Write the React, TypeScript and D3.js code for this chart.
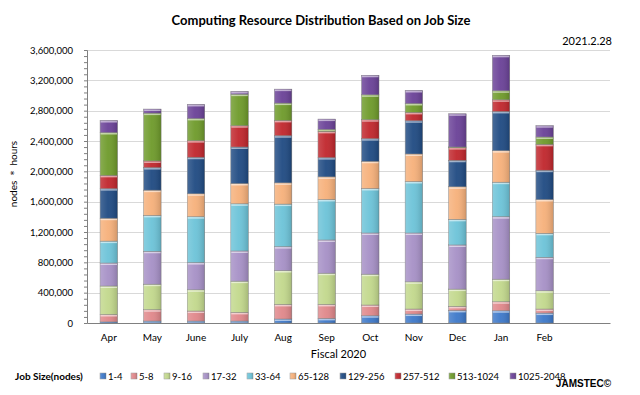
import React, { useEffect, useRef } from 'react';
import * as d3 from 'd3';

const months = ['Apr', 'May', 'June', 'July', 'Aug', 'Sep', 'Oct', 'Nov', 'Dec', 'Jan', 'Feb'];
const jobSizes = ['1-4', '5-8', '9-16', '17-32', '33-64', '65-128', '129-256', '257-512', '513-1024', '1025-2048'];
const colors = ['#3d78c9', '#e0878a', '#c2d88c', '#a690c6', '#6cc3d8', '#f6b07a', '#1f4a82', '#c0262c', '#6e9a2a', '#6a4197'];

// values per month, in job-size order (nodes * hours)
const apr = [15000, 97000, 376000, 303000, 289000, 302000, 390000, 175000, 565000, 158000];
const may = [26000, 149000, 337000, 434000, 473000, 333000, 298000, 87000, 631000, 53000];
const jun = [26000, 132000, 280000, 359000, 605000, 302000, 482000, 219000, 293000, 184000];
const jul = [26000, 114000, 412000, 398000, 622000, 268000, 481000, 281000, 416000, 35000];
const aug = [53000, 192000, 447000, 315000, 561000, 280000, 622000, 202000, 228000, 184000];
const sep = [61000, 184000, 412000, 438000, 534000, 298000, 254000, 346000, 27000, 135000];
const oct = [96000, 141000, 407000, 543000, 587000, 359000, 298000, 250000, 328000, 258000];
const nov = [118000, 66000, 359000, 644000, 679000, 363000, 438000, 110000, 118000, 171000];
const dec = [166000, 53000, 228000, 582000, 338000, 429000, 350000, 167000, 8000, 438000];
const jan = [162000, 118000, 298000, 824000, 455000, 416000, 517000, 153000, 119000, 468000];
const feb = [131000, 53000, 241000, 442000, 316000, 446000, 386000, 341000, 97000, 149000];

const monthValues = [apr, may, jun, jul, aug, sep, oct, nov, dec, jan, feb];
const yTicks = [0, 400000, 800000, 1200000, 1600000, 2000000, 2400000, 2800000, 3200000, 3600000];

const FONT = 'Lato, "Open Sans", sans-serif';

const JobSizeChart = () => {
  const chartRef = useRef(null);

  useEffect(() => {
    const W = 640;
    const H = 395;
    const margin = { top: 50, right: 30, bottom: 72, left: 87 };
    const width = W - margin.left - margin.right;
    const height = H - margin.top - margin.bottom;

    d3.select(chartRef.current).selectAll('*').remove();

    const root = d3
      .select(chartRef.current)
      .append('svg')
      .attr('width', W)
      .attr('height', H)
      .style('display', 'block')
      .style('background', '#fff');

    const defs = root.append('defs');
    const shade = defs
      .append('linearGradient')
      .attr('id', 'shade')
      .attr('x1', 0).attr('x2', 1).attr('y1', 0).attr('y2', 0);
    shade.append('stop').attr('offset', '0%').attr('stop-color', '#fff').attr('stop-opacity', 0.18);
    shade.append('stop').attr('offset', '45%').attr('stop-color', '#fff').attr('stop-opacity', 0.05);
    shade.append('stop').attr('offset', '100%').attr('stop-color', '#000').attr('stop-opacity', 0.15);

    const chartData = months.map((m, i) => {
      const row: any = { month: m };
      jobSizes.forEach((k, j) => (row[k] = monthValues[i][j]));
      return row;
    });
    const stackedData = d3.stack().keys(jobSizes)(chartData);

    const svg = root.append('g').attr('transform', `translate(${margin.left},${margin.top})`);

    const x = d3
      .scaleBand()
      .domain([...months, ''])
      .range([0, width])
      .paddingInner(0.6)
      .paddingOuter(0.3);

    const y = d3.scaleLinear().domain([0, 3600000]).range([height, 0]);
    const color = d3.scaleOrdinal().domain(jobSizes).range(colors);

    // gridlines
    svg
      .append('g')
      .selectAll('line')
      .data(yTicks.slice(1))
      .enter()
      .append('line')
      .attr('x1', 0)
      .attr('x2', width)
      .attr('y1', d => Math.round(y(d)) + 0.5)
      .attr('y2', d => Math.round(y(d)) + 0.5)
      .attr('stroke', '#d9d9d9')
      .attr('stroke-width', 1);

    // bars
    const layers = svg
      .selectAll('g.layer')
      .data(stackedData)
      .enter()
      .append('g')
      .attr('class', 'layer');

    layers
      .selectAll('rect.seg')
      .data(d => d.map(p => ({ p, key: d.key })))
      .enter()
      .append('rect')
      .attr('class', 'seg')
      .attr('x', d => x(d.p.data.month))
      .attr('width', x.bandwidth())
      .attr('y', d => y(d.p[1]))
      .attr('height', d => Math.max(0, y(d.p[0]) - y(d.p[1])))
      .attr('fill', d => color(d.key))
      .attr('stroke', '#808080')
      .attr('stroke-width', 0.5);

    layers
      .selectAll('rect.gloss')
      .data(d => d.map(p => ({ p, key: d.key })))
      .enter()
      .append('rect')
      .attr('class', 'gloss')
      .attr('x', d => x(d.p.data.month))
      .attr('width', x.bandwidth())
      .attr('y', d => y(d.p[1]))
      .attr('height', d => Math.max(0, y(d.p[0]) - y(d.p[1])))
      .attr('fill', 'url(#shade)');

    layers
      .selectAll('rect.bevel')
      .data(d => d.map(p => ({ p, key: d.key })))
      .enter()
      .append('rect')
      .attr('class', 'bevel')
      .attr('x', d => x(d.p.data.month) + 0.5)
      .attr('width', x.bandwidth() - 1)
      .attr('y', d => y(d.p[1]) + 0.5)
      .attr('height', d => Math.min(1.5, Math.max(0, y(d.p[0]) - y(d.p[1]) - 1)))
      .attr('fill', '#fff')
      .attr('opacity', 0.55);

    // y axis
    const yAxis = svg
      .append('g')
      .call(
        d3.axisLeft(y)
          .tickValues(d3.range(0, 3600001, 80000))
          .tickSize(3)
          .tickFormat(d => (yTicks.includes(+d) ? d3.format(',')(+d) : ''))
      );
    yAxis.select('.domain').attr('stroke', '#808080');
    yAxis.selectAll('line').attr('stroke', '#808080');
    yAxis
      .selectAll('text')
      .attr('x', -14)
      .style('font-size', '9.5px')
      .style('font-family', FONT)
      .style('fill', '#000');

    // x axis
    const xAxis = svg
      .append('g')
      .attr('transform', `translate(0, ${height})`)
      .call(d3.axisBottom(x).tickSize(0).tickPadding(11));
    xAxis.select('.domain').attr('stroke', '#808080');
    xAxis
      .selectAll('text')
      .style('font-size', '10px')
      .style('font-family', FONT)
      .style('fill', '#000');

    // titles
    root
      .append('text')
      .attr('x', 321)
      .attr('y', 25)
      .attr('text-anchor', 'middle')
      .style('font-size', '13px')
      .style('font-weight', 'bold')
      .style('font-family', FONT)
      .text('Computing Resource Distribution Based on Job Size');

    root
      .append('text')
      .attr('x', 612)
      .attr('y', 45)
      .attr('text-anchor', 'end')
      .style('font-size', '11px')
      .style('font-family', FONT)
      .text('2021.2.28');

    root
      .append('text')
      .attr('transform', 'rotate(-90)')
      .attr('x', -174)
      .attr('y', 17)
      .attr('text-anchor', 'middle')
      .style('font-size', '10px')
      .style('font-family', FONT)
      .text('nodes ＊ hours');

    root
      .append('text')
      .attr('x', margin.left + width / 2 - 10)
      .attr('y', 358)
      .attr('text-anchor', 'middle')
      .style('font-size', '11px')
      .style('font-family', FONT)
      .text('Fiscal 2020');

    // legend
    root
      .append('text')
      .attr('x', 15)
      .attr('y', 380)
      .style('font-size', '10px')
      .style('font-weight', 'bold')
      .style('font-family', FONT)
      .text('Job Size(nodes)');

    const legendX = [103, 134, 167, 206, 250, 293, 343, 398, 452, 513];
    jobSizes.forEach((k, i) => {
      const g = root.append('g').attr('transform', `translate(${legendX[i] - 3}, 372)`);
      g.append('rect')
        .attr('width', 6)
        .attr('height', 6)
        .attr('y', 1)
        .attr('fill', color(k))
        .attr('stroke', '#999')
        .attr('stroke-width', 0.5);
      g.append('rect').attr('width', 6).attr('height', 6).attr('y', 1).attr('fill', 'url(#shade)');
      g.append('text')
        .attr('x', 8)
        .attr('y', 8)
        .style('font-size', '9.5px')
        .style('font-family', FONT)
        .text(k);
    });

    root
      .append('text')
      .attr('x', 611)
      .attr('y', 387)
      .attr('text-anchor', 'end')
      .style('font-size', '10px')
      .style('font-weight', 'bold')
      .style('font-family', '"Liberation Sans", Arial, sans-serif')
      .text('JAMSTEC©');
  }, []);

  return <div ref={chartRef}></div>;
};

export default function App() {
  return (
    <div style={{ margin: -8 }}>
      <JobSizeChart />
    </div>
  );
}
